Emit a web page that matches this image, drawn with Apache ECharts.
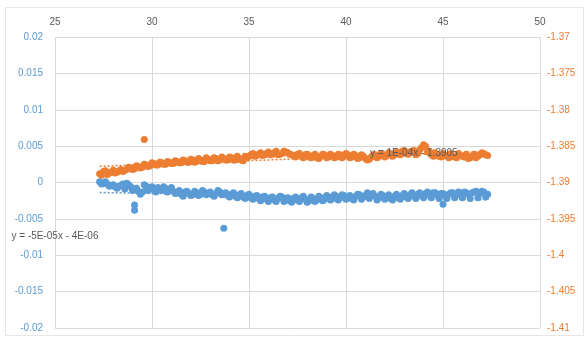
<!DOCTYPE html>
<html>
<head>
<meta charset="utf-8">
<script src="https://cdn.jsdelivr.net/npm/echarts@6/dist/echarts.min.js"></script>
<style>
  html, body { margin: 0; padding: 0; background: #fff; }
  #chart { width: 588px; height: 340px; }
</style>
</head>
<body>
<div id="chart"></div>
<script>
// x positions of the first run of measurements
const xs = [
  27.3, 27.5, 27.7, 27.9, 28.1, 28.3, 28.5, 28.7, 28.9, 29.1,
  29.3, 29.5, 29.7, 29.9, 30.1, 30.3, 30.5, 30.7, 30.9, 31.1,
  31.3, 31.5, 31.7, 31.9, 32.1, 32.3, 32.5, 32.7, 32.9, 33.1,
  33.3, 33.5, 33.7, 33.9, 34.1, 34.3, 34.5, 34.7, 34.9, 35.1,
  35.3, 35.5, 35.7, 35.9, 36.1, 36.3, 36.5, 36.7, 36.9, 37.1,
  37.3, 37.5, 37.7, 37.9, 38.1, 38.3, 38.5, 38.7, 38.9, 39.1,
  39.3, 39.5, 39.7, 39.9, 40.1, 40.3, 40.5, 40.7, 40.9, 41.1,
  41.3, 41.5, 41.7, 41.9, 42.1, 42.3, 42.5, 42.7, 42.9, 43.1,
  43.3, 43.5, 43.7, 43.9, 44.1, 44.3, 44.5, 44.7, 44.9, 45.1,
  45.3, 45.5, 45.7, 45.9, 46.1, 46.3, 46.5, 46.7, 46.9, 47.1,
  47.3
];
// x positions of the second, interleaved run
const xs2 = [
  27.4, 27.6, 27.8, 28.0, 28.2, 28.4, 28.6, 28.8, 29.0, 29.2,
  29.4, 29.6, 29.8, 30.0, 30.2, 30.4, 30.6, 30.8, 31.0, 31.2,
  31.4, 31.6, 31.8, 32.0, 32.2, 32.4, 32.6, 32.8, 33.0, 33.2,
  33.4, 33.6, 33.8, 34.0, 34.2, 34.4, 34.6, 34.8, 35.0, 35.2,
  35.4, 35.6, 35.8, 36.0, 36.2, 36.4, 36.6, 36.8, 37.0, 37.2,
  37.4, 37.6, 37.8, 38.0, 38.2, 38.4, 38.6, 38.8, 39.0, 39.2,
  39.4, 39.6, 39.8, 40.0, 40.2, 40.4, 40.6, 40.8, 41.0, 41.2,
  41.4, 41.6, 41.8, 42.0, 42.2, 42.4, 42.6, 42.8, 43.0, 43.2,
  43.4, 43.6, 43.8, 44.0, 44.2, 44.4, 44.6, 44.8, 45.0, 45.2,
  45.4, 45.6, 45.8, 46.0, 46.2, 46.4, 46.6, 46.8, 47.0, 47.2
];

// Primary series (left axis)
const blue = [
  0.0001, -0.0001, -0.0002, -0.0004, -0.0006, -0.0005, -0.0002, -0.0001, -0.0006, -0.0009,
  -0.0012, -0.0013, -0.0005, -0.0008, -0.0010, -0.0007, -0.0011, -0.0008, -0.0010, -0.0012,
  -0.0014, -0.0016, -0.0013, -0.0015, -0.0017, -0.0014, -0.0016, -0.0013, -0.0015, -0.0017,
  -0.0015, -0.0013, -0.0016, -0.0018, -0.0016, -0.0019, -0.0017, -0.0020, -0.0018, -0.0021,
  -0.0019, -0.0022, -0.0020, -0.0023, -0.0021, -0.0024, -0.0022, -0.0020, -0.0023, -0.0025,
  -0.0022, -0.0024, -0.0021, -0.0023, -0.0025, -0.0022, -0.0024, -0.0021, -0.0023, -0.0020,
  -0.0022, -0.0019, -0.0021, -0.0018, -0.0020, -0.0022, -0.0019, -0.0017, -0.0020, -0.0014,
  -0.0016, -0.0019, -0.0021, -0.0018, -0.0020, -0.0022, -0.0019, -0.0021, -0.0018, -0.0020,
  -0.0017, -0.0019, -0.0016, -0.0018, -0.0015, -0.0017, -0.0014, -0.0017, -0.0015, -0.0018,
  -0.0016, -0.0014, -0.0017, -0.0015, -0.0013, -0.0016, -0.0014, -0.0012, -0.0015, -0.0013,
  -0.0016
];
const blue2 = [
  -0.0002, 0.0001, -0.0005, -0.0003, -0.0008, -0.0004, -0.0009, -0.0003, -0.0011, -0.0008,
  -0.0016, -0.0003, -0.0011, -0.0006, -0.0013, -0.0009, -0.0006, -0.0013, -0.0007, -0.0015,
  -0.0011, -0.0019, -0.0012, -0.0018, -0.0012, -0.0018, -0.0011, -0.0017, -0.0013, -0.0019,
  -0.0011, -0.0017, -0.0014, -0.0020, -0.0014, -0.0021, -0.0015, -0.0022, -0.0016, -0.0023,
  -0.0018, -0.0025, -0.0019, -0.0026, -0.0020, -0.0026, -0.0019, -0.0026, -0.0021, -0.0027,
  -0.0020, -0.0026, -0.0019, -0.0027, -0.0020, -0.0026, -0.0019, -0.0025, -0.0018, -0.0024,
  -0.0017, -0.0024, -0.0017, -0.0023, -0.0018, -0.0024, -0.0016, -0.0023, -0.0018, -0.0022,
  -0.0015, -0.0024, -0.0016, -0.0023, -0.0017, -0.0024, -0.0016, -0.0023, -0.0015, -0.0022,
  -0.0014, -0.0022, -0.0014, -0.0021, -0.0013, -0.0021, -0.0014, -0.0022, -0.0015, -0.0022,
  -0.0014, -0.0021, -0.0013, -0.0021, -0.0014, -0.0022, -0.0013, -0.0021, -0.0012, -0.0020
];
const blueOutX = [29.1, 29.1, 33.7, 45.0];
const blueOutY = [-0.0031, -0.0038, -0.0063, -0.0030];

// Secondary series (right axis)
const orange = [
  -1.3888, -1.3885, -1.3889, -1.3886, -1.3887, -1.3884, -1.3885, -1.3882, -1.3880, -1.3881,
  -1.3878, -1.3879, -1.3876, -1.3877, -1.3874, -1.3876, -1.3873, -1.3875, -1.3872, -1.3874,
  -1.3871, -1.3873, -1.3870, -1.3872, -1.3869, -1.3871, -1.3869, -1.3871, -1.3868, -1.3870,
  -1.3867, -1.3869, -1.3867, -1.3869, -1.3866, -1.3869, -1.3867, -1.3870, -1.3866, -1.3862,
  -1.3864, -1.3861, -1.3863, -1.3860, -1.3862, -1.3859, -1.3862, -1.3860, -1.3858, -1.3861,
  -1.3863, -1.3861, -1.3864, -1.3862, -1.3865, -1.3863, -1.3866, -1.3864, -1.3862, -1.3865,
  -1.3863, -1.3865, -1.3862, -1.3864, -1.3862, -1.3865, -1.3863, -1.3866, -1.3864, -1.3869,
  -1.3865, -1.3862, -1.3864, -1.3861, -1.3863, -1.3860, -1.3862, -1.3859, -1.3857, -1.3860,
  -1.3858, -1.3856, -1.3860, -1.3852, -1.3850, -1.3857, -1.3864, -1.3862, -1.3865, -1.3863,
  -1.3866, -1.3864, -1.3866, -1.3863, -1.3865, -1.3867, -1.3864, -1.3866, -1.3862, -1.3860,
  -1.3863
];
const orange2 = [
  -1.3890, -1.3884, -1.3887, -1.3883, -1.3886, -1.3882, -1.3883, -1.3879, -1.3882, -1.3877,
  -1.3880, -1.3875, -1.3878, -1.3873, -1.3876, -1.3872, -1.3875, -1.3871, -1.3874, -1.3870,
  -1.3873, -1.3869, -1.3872, -1.3868, -1.3872, -1.3867, -1.3871, -1.3866, -1.3870, -1.3866,
  -1.3870, -1.3865, -1.3869, -1.3865, -1.3869, -1.3864, -1.3869, -1.3864, -1.3864, -1.3860,
  -1.3863, -1.3859, -1.3862, -1.3858, -1.3861, -1.3857, -1.3861, -1.3857, -1.3859, -1.3862,
  -1.3865, -1.3860, -1.3866, -1.3861, -1.3866, -1.3861, -1.3867, -1.3861, -1.3866, -1.3861,
  -1.3866, -1.3861, -1.3866, -1.3860, -1.3866, -1.3861, -1.3867, -1.3862, -1.3867, -1.3868,
  -1.3862, -1.3866, -1.3860, -1.3865, -1.3859, -1.3864, -1.3858, -1.3862, -1.3856, -1.3861,
  -1.3857, -1.3862, -1.3855, -1.3848, -1.3858, -1.3862, -1.3859, -1.3864, -1.3860, -1.3864,
  -1.3860, -1.3865, -1.3860, -1.3864, -1.3861, -1.3866, -1.3861, -1.3864, -1.3859, -1.3862
];
const orangeOutX = [29.6];
const orangeOutY = [-1.3841];

// Linear trendlines as given by their equations
const blueTrend = { slope: -5e-05, intercept: -4e-06, label: 'y = -5E-05x - 4E-06', at: [25.0, -0.0074] };
const orangeTrend = { slope: 1e-04, intercept: -1.3905, label: 'y = 1E-04x - 1.3905', at: [43.5, -1.3860] };

// Axis ranges and ticks
const xTicks = [25, 30, 35, 40, 45, 50];
const leftRange = [-0.02, 0.02];
const rightRange = [-1.41, -1.37];
const yStep = 0.005;

const BLUE = '#5b9bd5';
const ORANGE = '#ed7d31';
const GRID = '#d9d9d9';
const TEXT = '#595959';
const FONT = 'Liberation Sans';

function pairs(xArr, yArr) { return xArr.map((x, i) => [x, yArr[i]]); }
function trendPoints(t) {
  const x0 = xs[0], x1 = xs[xs.length - 1];
  return [[x0, t.slope * x0 + t.intercept], [x1, t.slope * x1 + t.intercept]];
}
function fmt(v) {
  const s = String(parseFloat(v.toFixed(4)));
  return s === '-0' ? '0' : s;
}

const chart = echarts.init(document.getElementById('chart'), null, { renderer: 'canvas' });

chart.setOption({
  animation: false,
  backgroundColor: '#ffffff',
  textStyle: { fontFamily: FONT },
  grid: { left: 55, right: 48, top: 37, bottom: 12, containLabel: false },
  xAxis: {
    type: 'value', position: 'top',
    min: xTicks[0], max: xTicks[xTicks.length - 1], interval: 5,
    axisLine: { show: false }, axisTick: { show: false },
    splitLine: { show: true, lineStyle: { color: GRID, width: 1 } },
    axisLabel: { color: TEXT, fontSize: 10, margin: 10, fontFamily: FONT }
  },
  yAxis: [
    {
      type: 'value', position: 'left',
      min: leftRange[0], max: leftRange[1], interval: yStep,
      axisLine: { show: false }, axisTick: { show: false },
      splitLine: { show: true, lineStyle: { color: GRID, width: 1 } },
      axisLabel: { color: BLUE, fontSize: 10, margin: 12, fontFamily: FONT, formatter: fmt }
    },
    {
      type: 'value', position: 'right',
      min: rightRange[0], max: rightRange[1], interval: yStep,
      axisLine: { show: false }, axisTick: { show: false },
      splitLine: { show: false },
      axisLabel: { color: ORANGE, fontSize: 10, margin: 7, fontFamily: FONT, formatter: fmt }
    }
  ],
  series: [
    {
      name: 'blue', type: 'scatter', yAxisIndex: 0, symbol: 'circle', symbolSize: 7,
      itemStyle: { color: BLUE, opacity: 1 },
      data: pairs(xs, blue).concat(pairs(xs2, blue2), pairs(blueOutX, blueOutY)), z: 3
    },
    {
      name: 'blueTrend', type: 'line', yAxisIndex: 0, symbol: 'none',
      lineStyle: { color: BLUE, width: 1.5, type: [2, 2] },
      data: trendPoints(blueTrend), z: 2
    },
    {
      name: 'orange', type: 'scatter', yAxisIndex: 1, symbol: 'circle', symbolSize: 7,
      itemStyle: { color: ORANGE, opacity: 1 },
      data: pairs(xs, orange).concat(pairs(xs2, orange2), pairs(orangeOutX, orangeOutY)), z: 4
    },
    {
      name: 'orangeTrend', type: 'line', yAxisIndex: 1, symbol: 'none',
      lineStyle: { color: ORANGE, width: 1.5, type: [2, 2] },
      data: trendPoints(orangeTrend), z: 2
    }
  ]
});

// Trendline equation labels, placed in data coordinates
const pb = chart.convertToPixel({ xAxisIndex: 0, yAxisIndex: 0 }, blueTrend.at);
const po = chart.convertToPixel({ xAxisIndex: 0, yAxisIndex: 1 }, orangeTrend.at);
chart.setOption({
  graphic: [
    { type: 'rect', shape: { x: 5.5, y: 7.5, width: 578, height: 328 },
      style: { fill: 'none', stroke: '#e6e6e6', lineWidth: 1 }, z: 0, silent: true },
    { type: 'text', x: pb[0], y: pb[1], z: 100,
      style: { text: blueTrend.label, fill: TEXT, font: '10px ' + FONT, textAlign: 'center', textVerticalAlign: 'middle' } },
    { type: 'text', x: po[0], y: po[1], z: 100,
      style: { text: orangeTrend.label, fill: TEXT, font: '10px ' + FONT, textAlign: 'center', textVerticalAlign: 'middle' } }
  ]
});
</script>
</body>
</html>
